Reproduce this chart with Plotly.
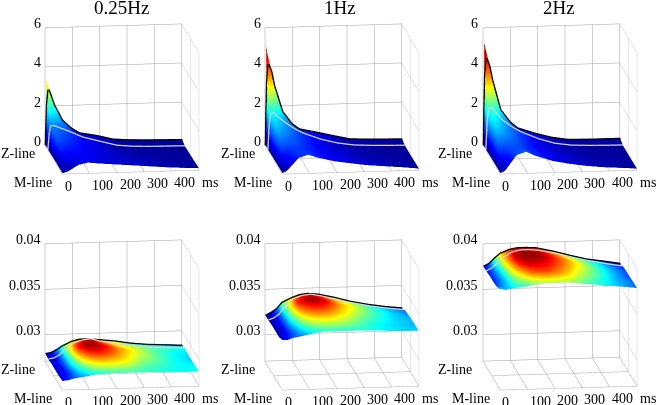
import plotly.graph_objects as go

FREQS = ["0.25Hz", "1Hz", "2Hz"]
M_POS = [0, 0.25, 0.5, 0.8, 0.95, 1]
M_POS_B = [0, 0.2, 0.4, 0.6, 0.8, 0.95, 1]
T_TOP = [0, 5, 10, 20, 30, 60, 95, 125, 190, 250, 310, 375, 440, 500]
T_BOT = [0, 20, 40, 60, 95, 125, 155, 190, 250, 310, 375, 440, 500]
X_TICKS = [0, 100, 200, 300, 400, 500]
X_LABELS = ["0", "100", "200", "300", "400", "ms"]
Y_TICKS = [0, 0.5, 1]
Y_LABELS = ["M-line", "", "Z-line"]
Z_TOP_TICKS = [0, 2, 4, 6]
Z_TOP_LABELS = ["0", "2", "4", "6"]
Z_BOT_TICKS = [0.03, 0.035, 0.04]
Z_BOT_LABELS = ["0.03", "0.035", "0.04"]
Z_TOP_RANGE = [0, 6]
Z_BOT_RANGE = [0.0271, 0.04]

TOP_025 = [
    [.05, .05, .08, .12, .2, .45, .55, .5, .42, .35, .28, .2, .14, .1],
    [.05, .4, .6, .65, .62, .6, .58, .52, .4, .3, .22, .15, .1, .07],
    [.05, .7, 1.0, 1.0, .95, .8, .68, .55, .38, .22, .14, .09, .06, .05],
    [.03, .9, 1.25, 1.26, 1.2, 1.03, .82, .63, .38, .16, .08, .05, .04, .03],
    [.05, 2.2, 2.9, 2.5, 2.1, 1.3, .85, .6, .43, .22, .17, .15, .13, .12],
    [.05, 3.4, 3.1, 2.7, 2.2, 1.35, .9, .62, .45, .24, .18, .15, .13, .12],
]
TOP_1 = [
    [.05, .08, .1, .2, .35, .8, .95, .8, .58, .45, .33, .25, .17, .08],
    [.05, .6, .9, .9, .85, .9, .85, .75, .55, .4, .28, .18, .12, .07],
    [.05, 1.0, 1.5, 1.5, 1.4, 1.15, .95, .78, .5, .32, .18, .12, .08, .06],
    [.03, 1.3, 1.9, 1.9, 1.75, 1.4, 1.07, .84, .5, .28, .15, .1, .07, .06],
    [.05, 3.3, 4.2, 3.8, 3.1, 1.75, 1.1, .8, .6, .4, .22, .19, .17, .15],
    [.05, 5.1, 4.6, 4.0, 3.2, 1.8, 1.15, .82, .62, .42, .23, .19, .17, .15],
]
TOP_2 = [
    [.05, .08, .1, .2, .4, .95, 1.1, .9, .6, .43, .3, .2, .14, .08],
    [.05, .7, 1.0, 1.0, .95, 1.0, .95, .8, .55, .38, .25, .16, .11, .07],
    [.05, 1.2, 1.7, 1.7, 1.6, 1.25, 1.0, .82, .5, .3, .17, .11, .08, .06],
    [.03, 1.5, 2.15, 2.15, 1.95, 1.5, 1.15, .9, .52, .26, .14, .1, .08, .07],
    [.05, 3.6, 4.5, 4.1, 3.4, 1.85, 1.2, .85, .55, .32, .2, .18, .18, .18],
    [.05, 5.3, 4.9, 4.3, 3.5, 1.9, 1.25, .88, .57, .34, .2, .18, .18, .18],
]
BOT_025 = [
    [.0281, .02815, .0283, .0284, .02855, .0287, .02875, .0288, .0288, .0288, .02875, .0287, .0287],
    [.0280, .0281, .0282, .0285, .0289, .0292, .0293, .0293, .0292, .0289, .0288, .0287, .0287],
    [.0280, .0280, .0283, .0287, .0294, .0297, .0298, .0297, .0294, .0291, .0289, .0287, .0286],
    [.0280, .0281, .0283, .0288, .0298, .0301, .0301, .0299, .0295, .0292, .0289, .0287, .0286],
    [.0279, .0280, .0283, .0289, .0296, .0299, .0300, .0297, .0293, .0291, .0289, .0288, .0287],
    [.0280, .0281, .0284, .0288, .0293, .0295, .0295, .0294, .0292, .0289, .0287, .0286, .0285],
    [.0280, .0281, .0284, .0288, .0293, .0295, .0295, .0294, .0292, .0289, .0287, .0286, .0285],
]
BOT_1 = [
    [.0326, .0326, .0328, .0329, .0331, .0333, .0334, .0334, .0334, .0334, .0333, .0332, .0332],
    [.0323, .0325, .0327, .0330, .0336, .0339, .0340, .0340, .0338, .0335, .0333, .0332, .0331],
    [.0323, .0324, .0328, .0333, .0342, .0345, .0346, .0345, .0341, .0337, .0334, .0332, .0331],
    [.0323, .0325, .0328, .0335, .0347, .0350, .0351, .0349, .0343, .0339, .0335, .0332, .0330],
    [.0322, .0324, .0328, .0336, .0345, .0348, .0349, .0347, .0342, .0338, .0334, .0331, .0329],
    [.0322, .0325, .0329, .0336, .0341, .0344, .0345, .0344, .0340, .0335, .0331, .0328, .0326],
    [.0322, .0325, .0329, .0336, .0341, .0344, .0345, .0343, .0340, .0335, .0331, .0328, .0326],
]
BOT_2 = [
    [.0382, .0381, .0382, .0383, .0384, .03856, .0387, .0387, .0387, .0385, .0383, .0381, .0379],
    [.0378, .0380, .0382, .0385, .0389, .0393, .0394, .0394, .0391, .0387, .0384, .0381, .0379],
    [.0377, .0379, .0382, .0387, .0394, .0397, .0397, .0396, .0393, .0389, .0385, .0381, .0378],
    [.0377, .0379, .0383, .0389, .0397, .03985, .03985, .0398, .0394, .0390, .0385, .0381, .0378],
    [.0376, .0379, .0384, .0390, .0396, .0398, .0398, .0397, .0393, .0388, .0384, .0380, .0377],
    [.0376, .0379, .0385, .0390, .0394, .03955, .03955, .0395, .0391, .0386, .0381, .0378, .0375],
    [.0376, .0379, .0385, .0390, .0394, .03955, .03955, .0395, .0391, .0386, .0381, .0378, .0375],
]
C_TOP = [(0, 5), (0, 5), (0, 5)]
C_BOT = [(.0278, .03015), (.0322, .03515), (.0373, .0399)]

JET = [[0, "rgb(0,0,143)"], [.125, "rgb(0,0,255)"], [.375, "rgb(0,255,255)"],
       [.625, "rgb(255,255,0)"], [.875, "rgb(255,0,0)"], [1, "rgb(128,0,0)"]]
W, H = 656, 405
CX = [122, 342, 559.5]
CY = [99, 315]
DW, DH = 190, 180
FONT = "Liberation Serif"
D = 1.6
K = 1.266
EYE = dict(x=-.1275 * D, y=-.967 * D, z=.2197 * D)

fig = go.Figure()
anns = []


def add_panel(row, col, T, M, Z, clim, zticks, zlabels, zrange):
    n = row * 3 + col + 1
    name = f"scene{n}"
    fig.add_trace(go.Surface(
        x=T, y=M, z=Z, colorscale=JET, cmin=clim[0], cmax=clim[1], showscale=False,
        lighting=dict(ambient=1, diffuse=0, specular=0, fresnel=0, roughness=1),
        scene=name))
    for pos, color, w in ((M.index(0.8), "#d4d4e0", 5), (M.index(0.95), "black", 5)):
        fig.add_trace(go.Scatter3d(x=T, y=[M[pos]] * len(T), z=Z[pos], mode="lines",
                                   line=dict(color=color, width=w), showlegend=False,
                                   scene=name))
    ann = []
    for v, s in zip(X_TICKS, X_LABELS):
        ann.append(dict(x=v, y=0, z=zrange[0], text=s, showarrow=False, xanchor="center",
                        yanchor="middle", xshift=6 if s == "0" else (11 if s == "ms" else 13),
                        yshift=-12, font=dict(family=FONT, size=14, color="black")))
    for v, s in zip(Y_TICKS, Y_LABELS):
        if s:
            ann.append(dict(x=0, y=v, z=zrange[0], text=s, showarrow=False, xanchor="right",
                            yanchor="middle", xshift=-8, yshift=-8,
                            font=dict(family=FONT, size=14, color="black")))
    for v, s in zip(zticks, zlabels):
        ann.append(dict(x=0, y=1, z=v, text=s, showarrow=False, xanchor="right",
                        yanchor="middle", xshift=-2, yshift=4,
                        font=dict(family=FONT, size=14, color="black")))
    axis = dict(showbackground=False, showgrid=True, gridcolor="#a0a0a0", gridwidth=1,
                showticklabels=False, title=dict(text=""), zeroline=False, showline=False,
                showspikes=False, ticks="")
    x0, y0 = CX[col], CY[row]
    fig.update_layout({name: dict(
        domain=dict(x=[(x0 - DW / 2) / W, (x0 + DW / 2) / W],
                    y=[1 - (y0 + DH / 2) / H, 1 - (y0 - DH / 2) / H]),
        xaxis=dict(axis, range=[0, 500], tickvals=X_TICKS),
        yaxis=dict(axis, range=[0, 1], tickvals=Y_TICKS),
        zaxis=dict(axis, range=zrange, tickvals=list(zrange[:1]) + zticks),
        aspectmode="manual", aspectratio=dict(x=1.21 * K, y=1.168 * K, z=1.055 * K),
        camera=dict(eye=EYE, up=dict(x=0, y=0, z=1), center=dict(x=0, y=0, z=0),
                    projection=dict(type="orthographic")),
        annotations=ann, bgcolor="white")})


top = [TOP_025, TOP_1, TOP_2]
bot = [BOT_025, BOT_1, BOT_2]
TITLE_X = [121, 340, 559]
for c in range(3):
    add_panel(0, c, T_TOP, M_POS, top[c], C_TOP[c], Z_TOP_TICKS, Z_TOP_LABELS, Z_TOP_RANGE)
    add_panel(1, c, T_BOT, M_POS_B, bot[c], C_BOT[c], Z_BOT_TICKS, Z_BOT_LABELS, Z_BOT_RANGE)
    anns.append(dict(x=TITLE_X[c] / W, y=1 - 8 / H, xref="paper", yref="paper", text=FREQS[c],
                     showarrow=False, xanchor="center", yanchor="middle",
                     font=dict(family=FONT, size=19, color="black")))

fig.update_layout(width=W, height=H, margin=dict(l=0, r=0, t=0, b=0), paper_bgcolor="white",
                  showlegend=False, annotations=anns)
fig.write_html("out.html", post_script="document.body.style.margin='0';",
               config=dict(displayModeBar=False))
